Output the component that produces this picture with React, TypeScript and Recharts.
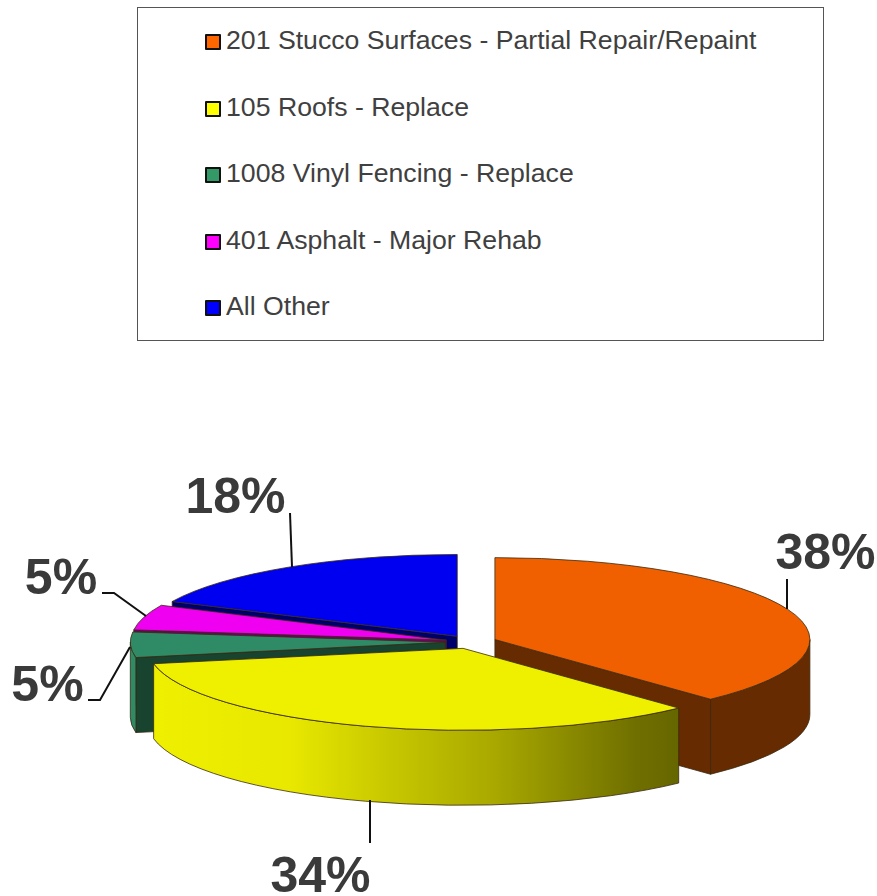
import React from "react"
import { PieChart, Pie, Cell, Legend } from "recharts"

const categories = [
  "201 Stucco Surfaces - Partial Repair/Repaint",
  "105 Roofs - Replace",
  "1008 Vinyl Fencing - Replace",
  "401 Asphalt - Major Rehab",
  "All Other",
]
const percentages = [38, 34, 5, 5, 18]
const legendColors = ["#ff6600", "#ffff00", "#339966", "#ff00ff", "#0000ff"]
const topColors = ["#f06000", "#efef00", "#2e8b66", "#f000f0", "#0000f0"]
const cutColors = ["#662b00", "#666600", "#17432f", "#70006a", "#00006a"]
const rimColors = ["#662b00", "url(#rimFade)", "#2e8b66", "#a000a0", "#0000a0"]

// slices are painted back to front, so the pie runs counter-clockwise from the end of the first slice
const paintOrder = [0, 4, 3, 2, 1]
const rows = paintOrder.map((i) => ({
  name: categories[i],
  value: percentages[i],
  top: topColors[i],
  cut: cutColors[i],
  rim: rimColors[i],
}))

// label text position and leader line, in legend order
const labelSpots = [
  { x: 825.5, y: 569, leader: [[787, 609], [787, 579]] },
  { x: 320.5, y: 892, leader: [[370, 800], [370, 843]] },
  { x: 47.5, y: 701, leader: [[130, 647], [100, 700], [88, 700]] },
  { x: 61, y: 594, leader: [[146, 616], [114, 593], [102, 593]] },
  { x: 235.5, y: 513, leader: [[292, 567], [290, 513]] },
]

const WIDTH = 877
const HEIGHT = 896
const CX = 471
const CY = 642
const RADIUS = 315
const TILT = 0.26
const DEPTH = 75
const EXPLODE = 25.7
const START_ANGLE = 90 - 3.6 * percentages[0]

const FONT = '"Liberation Sans", Arial, sans-serif'
const EDGE = "#3a2a10"

const polar = (cx: number, cy: number, r: number, deg: number) => {
  const rad = (deg * Math.PI) / 180
  return [cx + r * Math.cos(rad), cy - r * TILT * Math.sin(rad)]
}

// part of [start, end] that lies on the near half of the ellipse
const nearArcs = (start: number, end: number) =>
  [[-180, 0], [180, 360]]
    .map(([lo, hi]) => [Math.max(start, lo), Math.min(end, hi)])
    .filter(([lo, hi]) => hi > lo)

function Slice3D(props: any) {
  const { cx, cy, outerRadius: r, startAngle, endAngle, midAngle, fill, payload } = props
  const [ox, oy] = polar(cx, cy, EXPLODE, midAngle)
  const ry = r * TILT
  const at = (deg: number) => polar(ox, oy, r, deg)

  const cutFace = (deg: number) => {
    const [x, y] = at(deg)
    return `M${ox},${oy} L${x},${y} L${x},${y + DEPTH} L${ox},${oy + DEPTH} Z`
  }
  const cuts = []
  if (Math.cos((startAngle * Math.PI) / 180) > 0.001) cuts.push(cutFace(startAngle))
  if (Math.cos((endAngle * Math.PI) / 180) < -0.001) cuts.push(cutFace(endAngle))

  const [sx, sy] = at(startAngle)
  const [ex, ey] = at(endAngle)
  const large = endAngle - startAngle > 180 ? 1 : 0

  return (
    <g>
      <defs>
        <linearGradient id="rimFade" x1="0" y1="0" x2="1" y2="0">
          <stop offset="0" stopColor="#efef00" />
          <stop offset="0.26" stopColor="#e8e800" />
          <stop offset="0.42" stopColor="#cccc00" />
          <stop offset="0.65" stopColor="#a8a800" />
          <stop offset="0.92" stopColor="#6f6f00" />
          <stop offset="1" stopColor="#666600" />
        </linearGradient>
      </defs>
      {cuts.map((d) => (
        <path key={d} d={d} fill={payload.cut} stroke={EDGE} strokeWidth={0.8} />
      ))}
      {nearArcs(startAngle, endAngle).map(([lo, hi]) => {
        const [ax, ay] = at(lo)
        const [bx, by] = at(hi)
        return (
          <path
            key={lo}
            d={`M${ax},${ay} A${r},${ry} 0 0 0 ${bx},${by} L${bx},${by + DEPTH} A${r},${ry} 0 0 1 ${ax},${ay + DEPTH} Z`}
            fill={payload.rim}
            stroke={EDGE}
            strokeWidth={0.8}
          />
        )
      })}
      <path
        d={`M${ox},${oy} L${sx},${sy} A${r},${ry} 0 ${large} 0 ${ex},${ey} Z`}
        fill={fill}
        stroke={EDGE}
        strokeWidth={0.8}
      />
    </g>
  )
}

function PercentLabel(props: any) {
  const { payload } = props
  const spot = labelSpots[categories.indexOf(payload.name)]
  return (
    <g>
      <polyline
        points={spot.leader.map((p) => p.join(",")).join(" ")}
        fill="none"
        stroke="#111"
        strokeWidth={2}
      />
      <text
        x={spot.x}
        y={spot.y}
        textAnchor="middle"
        fontFamily={FONT}
        fontSize={50}
        fontWeight="bold"
        fill="#3a3a3a"
      >
        {`${payload.value}%`}
      </text>
    </g>
  )
}

function LegendBox() {
  return (
    <div
      style={{
        boxSizing: "border-box",
        width: 687,
        height: 334,
        border: "1px solid #555",
        background: "#fff",
        fontFamily: FONT,
        fontSize: 26.67,
        color: "#404040",
        position: "relative",
      }}
    >
      {categories.map((name, i) => (
        <div
          key={name}
          style={{
            position: "absolute",
            left: 67,
            top: 16 + i * 66.5,
            height: 32,
            lineHeight: "32px",
            whiteSpace: "nowrap",
          }}
        >
          <span
            style={{
              display: "inline-block",
              boxSizing: "border-box",
              width: 16,
              height: 16,
              marginRight: 5,
              border: "2px solid #111",
              borderRadius: 1,
              background: legendColors[i],
              verticalAlign: -1,
            }}
          />
          {name}
        </div>
      ))}
    </div>
  )
}

export default function App() {
  return (
    <div style={{ position: "absolute", left: 0, top: 0, width: WIDTH, height: HEIGHT }}>
      <PieChart width={WIDTH} height={HEIGHT} margin={{ top: 0, right: 0, bottom: 0, left: 0 }}>
        <Legend
          layout="horizontal"
          align="center"
          verticalAlign="middle"
          content={<LegendBox />}
          wrapperStyle={{ position: "absolute", left: 137, top: 7, width: 687, height: 334 }}
        />
        <Pie
          data={rows}
          dataKey="value"
          nameKey="name"
          cx={CX}
          cy={CY}
          innerRadius={0}
          outerRadius={RADIUS}
          startAngle={START_ANGLE}
          endAngle={START_ANGLE + 360}
          paddingAngle={0}
          isAnimationActive={false}
          shape={Slice3D}
          label={PercentLabel}
          labelLine={false}
        >
          {rows.map((row) => (
            <Cell key={row.name} fill={row.top} />
          ))}
        </Pie>
      </PieChart>
    </div>
  )
}
